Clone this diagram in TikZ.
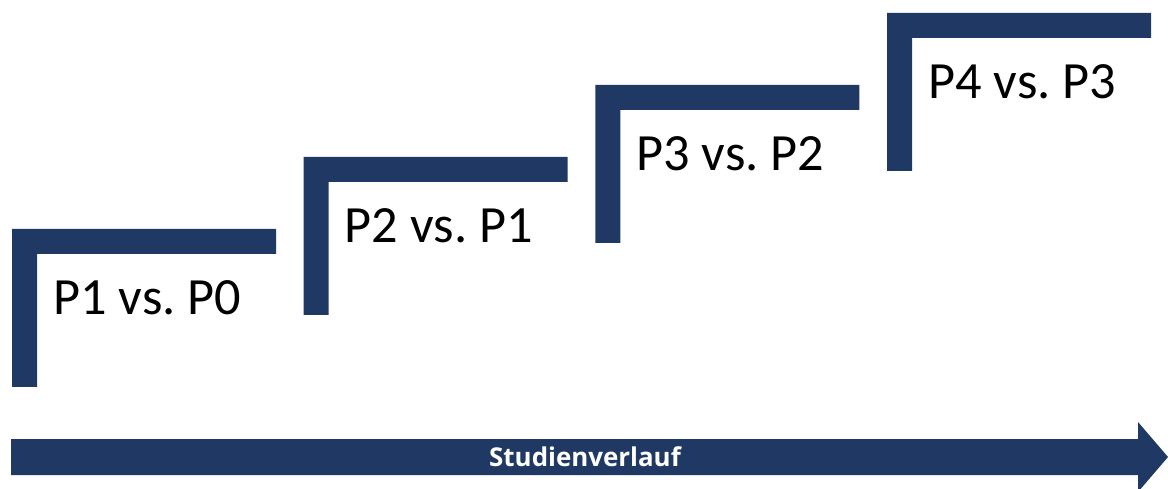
\documentclass[tikz,border=0pt]{standalone}
\usepackage{fontspec}
\setmainfont{Carlito}
\newfontfamily\barfont{Open Sans}
\definecolor{navy}{HTML}{1F3864}
\frenchspacing
\tikzset{
  stair/.style={fill=navy, draw=none},
  phase/.style={anchor=base west, inner sep=0pt, text=black,
                font=\fontsize{52.5}{60}\selectfont},
  timeline/.style={fill=navy, draw=none},
  timelabel/.style={inner sep=0pt, text=white,
                    font=\barfont\bfseries\fontsize{26}{30}\selectfont}
}
\begin{document}
\begin{tikzpicture}[x=1bp, y=-1bp]
  \useasboundingbox (0,0) rectangle (1168,489);
  % four corner brackets climbing to the right
  \foreach \i/\lab in {0/P1 vs. P0, 1/P2 vs. P1, 2/P3 vs. P2, 3/P4 vs. P3} {
    \pgfmathsetmacro{\bx}{12 + 291.7*\i}
    \pgfmathsetmacro{\by}{229 - 72*\i}
    \fill[stair] (\bx,\by) -- ++(264,0) -- ++(0,25) -- ++(-239,0)
                 -- ++(0,133) -- ++(-25,0) -- cycle;
    \node[phase] (p\i) at (\bx+41,\by+86) {\lab};
  }
  % time axis arrow
  \coordinate (tail) at (11,457);
  \coordinate (tip) at (1168,457);
  \fill[timeline] (tail) ++(0,-18) -- (1138,439) -- (1138,422) -- (tip)
                  -- (1138,492) -- (1138,475) -- (11,475) -- cycle;
  \node[timelabel] (axis) at (585,457) {Studienverlauf};
\end{tikzpicture}
\end{document}
